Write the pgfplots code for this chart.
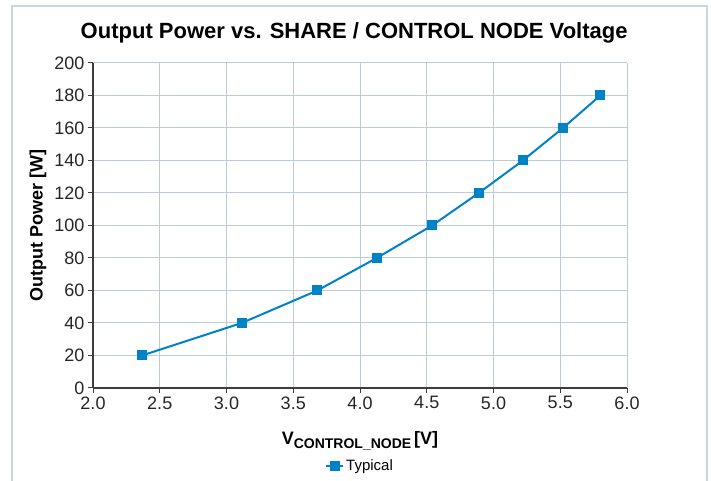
\documentclass[border=0pt]{standalone}
\usepackage{fontspec}
\setmainfont{Liberation Sans}
\usepackage{pgfplots}
\pgfplotsset{compat=1.18}
\definecolor{lineblue}{RGB}{0,130,198}
\definecolor{gridc}{RGB}{188,205,214}
\definecolor{framec}{RGB}{200,214,222}
\definecolor{axisc}{RGB}{60,60,60}
\begin{document}
\begin{tikzpicture}[x=1pt,y=1pt]
\useasboundingbox (0,0) rectangle (711,481);
\begin{scope}
\clip (0,0) rectangle (711,481);
\draw[framec, line width=1.5pt] (12,-20) rectangle (707,475);
\end{scope}
\begin{axis}[
  at={(93pt,93pt)}, anchor=south west,
  scale only axis, width=534pt, height=325pt,
  xmin=2, xmax=6, ymin=0, ymax=200,
  xtick={2,2.5,...,6}, ytick={0,20,...,200},
  axis lines=left, axis line style={-, axisc, line width=1.2pt},
  grid=major, major grid style={gridc, line width=1pt},
  tick align=outside, major tick length=5pt,
  tick style={axisc, line width=1pt},
  /pgf/number format/assume math mode=true,
  xticklabel style={/pgf/number format/.cd, fixed, fixed zerofill, precision=1},
  ticklabel style={font=\fontsize{18}{20}\selectfont, color=black!85},
  title={Output Power vs. SHARE / CONTROL NODE Voltage},
  title style={at={(axis description cs:0.489,1)}, anchor=base, yshift=18pt, font=\bfseries\fontsize{22}{24}\selectfont},
  xlabel={V{\fontsize{14}{14}\selectfont\raisebox{-3pt}{CONTROL\_NODE}}\,[V]},
  xlabel style={at={(axis description cs:0.5,0)}, anchor=base, yshift=-57pt, font=\bfseries\fontsize{18}{20}\selectfont},
  ylabel={Output Power [W]},
  ylabel style={at={(axis description cs:0,0.5)}, anchor=center, yshift=55pt, font=\bfseries\fontsize{18}{20}\selectfont},
  legend style={at={(axis description cs:0.5,0)}, anchor=center, yshift=-78pt, draw=none, fill=none, font=\fontsize{15}{17}\selectfont},
  legend cell align=left,
]
\addplot[lineblue, line width=2pt, mark=square*, mark size=4pt, mark options={fill=lineblue, draw=lineblue}]
  coordinates {(2.367,20) (3.114,40) (3.68,60) (4.125,80) (4.54,100) (4.89,120) (5.22,140) (5.52,160) (5.80,180)};
\addlegendentry{Typical}
\end{axis}
\end{tikzpicture}
\end{document}
